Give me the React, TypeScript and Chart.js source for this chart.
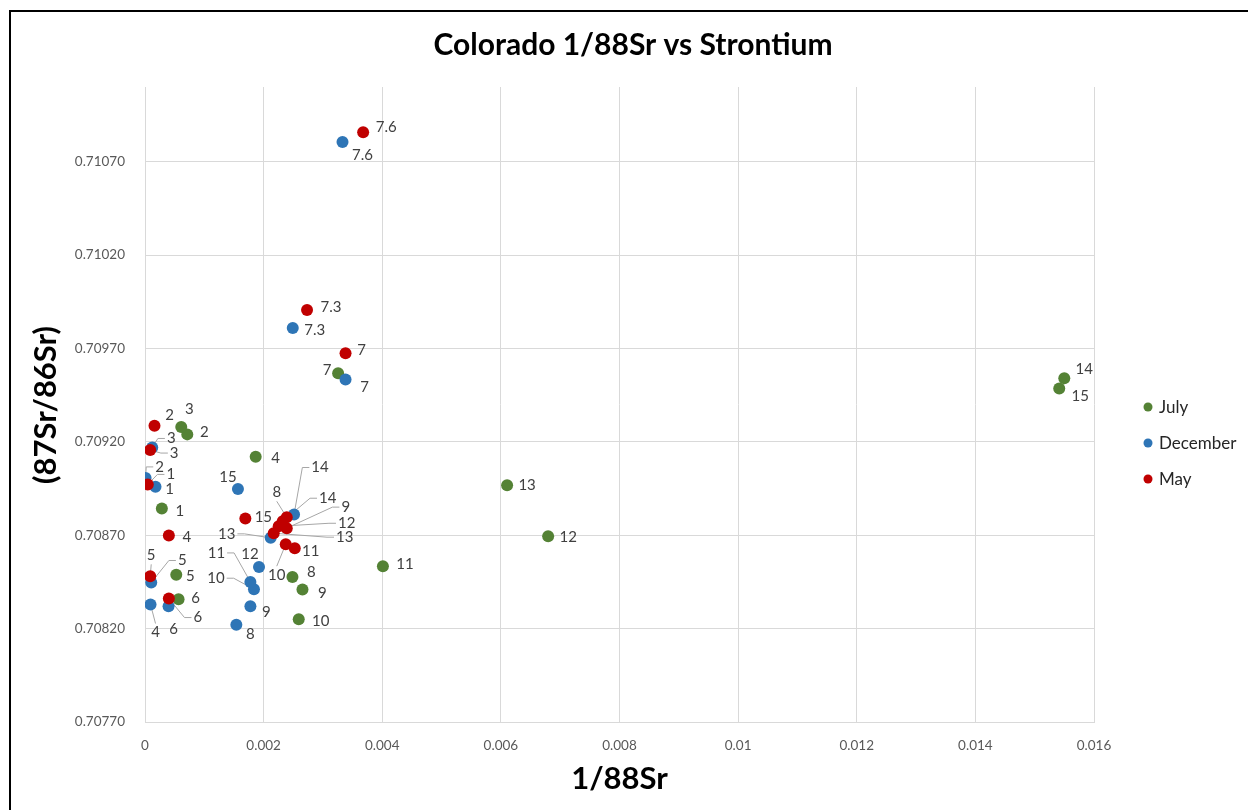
import React, { useEffect, useRef } from "react";
import { Chart, registerables } from "chart.js";

Chart.register(...registerables);

const FONT = "Lato, 'Open Sans', 'DejaVu Sans', sans-serif";

const chartTitle = "Colorado 1/88Sr vs Strontium";
const xAxisTitle = "1/88Sr";
const yAxisTitle = "(87Sr/86Sr)";

const seriesNames = ["July", "December", "May"];
const seriesColors = ["#548235", "#2E75B6", "#C00000"];

const xTicks = [0, 0.002, 0.004, 0.006, 0.008, 0.01, 0.012, 0.014, 0.016];
const yTicks = [0.7077, 0.7082, 0.7087, 0.7092, 0.7097, 0.7102, 0.7107];

// July
const julyLabels = ["1", "2", "3", "4", "5", "6", "7", "8", "9", "10", "11", "12", "13", "14", "15"];
const julyX = [0.000284, 0.000713, 0.000611, 0.001866, 0.000527, 0.000566, 0.003256, 0.002486, 0.002655, 0.002592, 0.004011, 0.006797, 0.006105, 0.015499, 0.015414];
const julyY = [0.708843, 0.70924, 0.70928, 0.70912, 0.708489, 0.708357, 0.709567, 0.708477, 0.708409, 0.70825, 0.708534, 0.708695, 0.708968, 0.70954, 0.709486];

// December
const decLabels = ["1", "2", "3", "4", "5", "6", "7", "7.3", "7.6", "8", "9", "10", "11", "12", "13", "14", "15"];
const decX = [0.000177, 0.00001, 0.000122, 0.000093, 0.000105, 0.000397, 0.003381, 0.002491, 0.00333, 0.00154, 0.001777, 0.001837, 0.001777, 0.001922, 0.002119, 0.002513, 0.001567];
const decY = [0.708959, 0.709007, 0.70917, 0.708329, 0.708447, 0.70832, 0.709534, 0.709809, 0.710805, 0.708221, 0.70832, 0.708411, 0.70845, 0.70853, 0.708686, 0.708811, 0.708947];

// May
const mayLabels = ["1", "2", "3", "4", "5", "6", "7", "7.3", "7.6", "8", "9", "10", "11", "12", "13", "14", "15"];
const mayX = [0.000047, 0.00016, 0.000088, 0.000402, 0.000088, 0.000402, 0.003381, 0.002732, 0.003678, 0.00239, 0.00239, 0.002373, 0.002525, 0.002254, 0.00217, 0.002322, 0.001692];
const mayY = [0.708972, 0.709286, 0.709156, 0.708698, 0.70848, 0.708361, 0.709674, 0.709906, 0.710858, 0.708796, 0.708738, 0.708652, 0.70863, 0.708748, 0.708711, 0.708775, 0.70879];

// data-label placement (dx, dy in px from the marker; leader: 0 none, 1 side stub, 2 vertical)
const julyLabelPlace = [
  [18, 3, 0], [17, -2, 0], [8, -18, 0], [20, 1, 0], [14, 2, 0], [17, -1, 0], [-11, -3, 0], [19, -5, 0],
  [20, 4, 0], [22, 2, 0], [22, -2, 0], [20, 1, 0], [20, 0, 0], [20, -9, 0], [21, 8, 0],
];
const decLabelPlace = [
  [14, 2, 0], [14, -11, 1], [19, -9, 1], [5, 28, 2], [31, -22, 1], [5, 23, 0], [19, 8, 0], [22, 2, 0], [20, 13, 0],
  [14, 9, 0], [16, 6, 0], [-38, -11, 1], [-34, -29, 1], [-9, -13, 0], [-44, -4, 1], [26, -47, 1], [-10, -12, 0],
];
const mayLabelPlace = [
  [23, -10, 1], [15, -11, 0], [24, 3, 1], [18, 2, 0], [1, -21, 2], [29, 19, 1], [16, -3, 0], [24, -3, 0], [23, -5, 0],
  [-10, -25, 2], [59, -21, 1], [-9, 31, 2], [16, 3, 0], [68, -3, 1], [71, 4, 1], [45, -23, 1], [18, -1, 0],
];

const allLabels = [julyLabels, decLabels, mayLabels];
const allPlace = [julyLabelPlace, decLabelPlace, mayLabelPlace];

const toPoints = (xs: number[], ys: number[]) => xs.map((x, i) => ({ x, y: ys[i] }));

const LABEL_FONT = `15px ${FONT}`;

function labelBox(ctx: CanvasRenderingContext2D, text: string, lx: number, ly: number) {
  const w = ctx.measureText(text).width;
  return { l: lx - w / 2 - 2, r: lx + w / 2 + 2, t: ly - 9, b: ly + 9 };
}

const excelPlugin = {
  id: "excelLook",
  beforeDatasetsDraw(chart: any) {
    const ctx: CanvasRenderingContext2D = chart.ctx;
    ctx.save();
    ctx.font = LABEL_FONT;
    ctx.strokeStyle = "#a6a6a6";
    ctx.lineWidth = 1;
    chart.data.datasets.forEach((_ds: any, di: number) => {
      const meta = chart.getDatasetMeta(di);
      meta.data.forEach((el: any, i: number) => {
        const [dx, dy, lead] = allPlace[di][i];
        if (!lead) return;
        const px = el.x, py = el.y;
        const lx = px + dx, ly = py + dy;
        const box = labelBox(ctx, allLabels[di][i], lx, ly);
        ctx.beginPath();
        if (lead === 1) {
          if (px < box.l) {
            ctx.moveTo(box.l, ly);
            ctx.lineTo(box.l - 7, ly);
          } else {
            ctx.moveTo(box.r, ly);
            ctx.lineTo(box.r + 7, ly);
          }
        } else {
          if (py > ly) ctx.moveTo(lx, box.b);
          else ctx.moveTo(lx, box.t);
        }
        ctx.lineTo(px, py);
        ctx.stroke();
      });
    });
    ctx.restore();
  },
  afterDatasetsDraw(chart: any) {
    const ctx: CanvasRenderingContext2D = chart.ctx;
    ctx.save();
    ctx.font = LABEL_FONT;
    ctx.fillStyle = "#404040";
    ctx.textAlign = "center";
    ctx.textBaseline = "middle";
    chart.data.datasets.forEach((_ds: any, di: number) => {
      const meta = chart.getDatasetMeta(di);
      meta.data.forEach((el: any, i: number) => {
        const [dx, dy] = allPlace[di][i];
        ctx.fillText(allLabels[di][i], el.x + dx, el.y + dy);
      });
    });
    ctx.restore();
  },
  afterDraw(chart: any) {
    const ctx: CanvasRenderingContext2D = chart.ctx;
    const area = chart.chartArea;
    ctx.save();
    ctx.fillStyle = "#000";
    ctx.textAlign = "center";
    ctx.textBaseline = "middle";
    ctx.font = `bold 30px ${FONT}`;
    ctx.fillText(chartTitle, 633, 45);
    ctx.font = `bold 31px ${FONT}`;
    ctx.fillText(xAxisTitle, (area.left + area.right) / 2, 779);
    ctx.save();
    ctx.translate(46, 405);
    ctx.rotate(-Math.PI / 2);
    ctx.fillText(yAxisTitle, 0, 0);
    ctx.restore();

    // legend
    ctx.font = `17px ${FONT}`;
    ctx.textAlign = "left";
    seriesNames.forEach((name, i) => {
      const y = 407 + i * 36;
      ctx.fillStyle = seriesColors[i];
      ctx.beginPath();
      ctx.arc(1148, y, 4.5, 0, Math.PI * 2);
      ctx.fill();
      ctx.fillStyle = "#262626";
      ctx.fillText(name, 1159, y + 1);
    });
    ctx.restore();
  },
};

export default function App() {
  const ref = useRef<HTMLCanvasElement>(null);
  useEffect(() => {
    if (!ref.current) return;
    const mk = (i: number, xs: number[], ys: number[], order: number) => ({
      label: seriesNames[i],
      data: toPoints(xs, ys),
      backgroundColor: seriesColors[i],
      borderColor: seriesColors[i],
      borderWidth: 0,
      pointRadius: 6,
      pointHoverRadius: 6,
      order,
    });
    const chart = new Chart(ref.current, {
      type: "scatter",
      data: {
        datasets: [mk(0, julyX, julyY, 3), mk(1, decX, decY, 2), mk(2, mayX, mayY, 1)],
      },
      options: {
        responsive: false,
        animation: false,
        events: [],
        layout: { padding: { left: 0, right: 154, top: 87, bottom: 0 } },
        plugins: {
          legend: { display: false },
          tooltip: { enabled: false },
          title: { display: false },
        },
        scales: {
          x: {
            type: "linear",
            min: 0,
            max: 0.016,
            afterBuildTicks: (s: any) => {
              s.ticks = xTicks.map((v) => ({ value: v }));
            },
            afterFit: (s: any) => {
              s.height = 88;
            },
            ticks: {
              callback: (v: any) => String(+Number(v).toFixed(4)),
              font: { family: FONT, size: 13.5 },
              color: "#595959",
              padding: 16,
              maxRotation: 0,
              autoSkip: false,
            },
            grid: { color: "#d9d9d9", drawTicks: false },
            border: { color: "#d9d9d9" },
          },
          y: {
            type: "linear",
            min: 0.7077,
            max: 0.7111,
            afterBuildTicks: (s: any) => {
              s.ticks = yTicks.map((v) => ({ value: v }));
            },
            afterFit: (s: any) => {
              s.width = 145;
            },
            ticks: {
              callback: (v: any) => Number(v).toFixed(5),
              font: { family: FONT, size: 13.5 },
              color: "#595959",
              padding: 20,
              autoSkip: false,
            },
            grid: { color: "#d9d9d9", drawTicks: false },
            border: { color: "#d9d9d9" },
          },
        },
      },
      plugins: [excelPlugin],
    } as any);
    return () => chart.destroy();
  }, []);

  return (
    <div style={{ position: "fixed", left: 0, top: 0, width: 1248, height: 810, overflow: "hidden", background: "#fff" }}>
      <div
        style={{
          position: "absolute",
          left: 9,
          top: 10,
          width: 1400,
          height: 1000,
          borderTop: "2px solid #000",
          borderLeft: "2px solid #000",
        }}
      />
      <canvas ref={ref} width={1248} height={810} style={{ position: "absolute", left: 0, top: 0, width: 1248, height: 810 }} />
    </div>
  );
}
